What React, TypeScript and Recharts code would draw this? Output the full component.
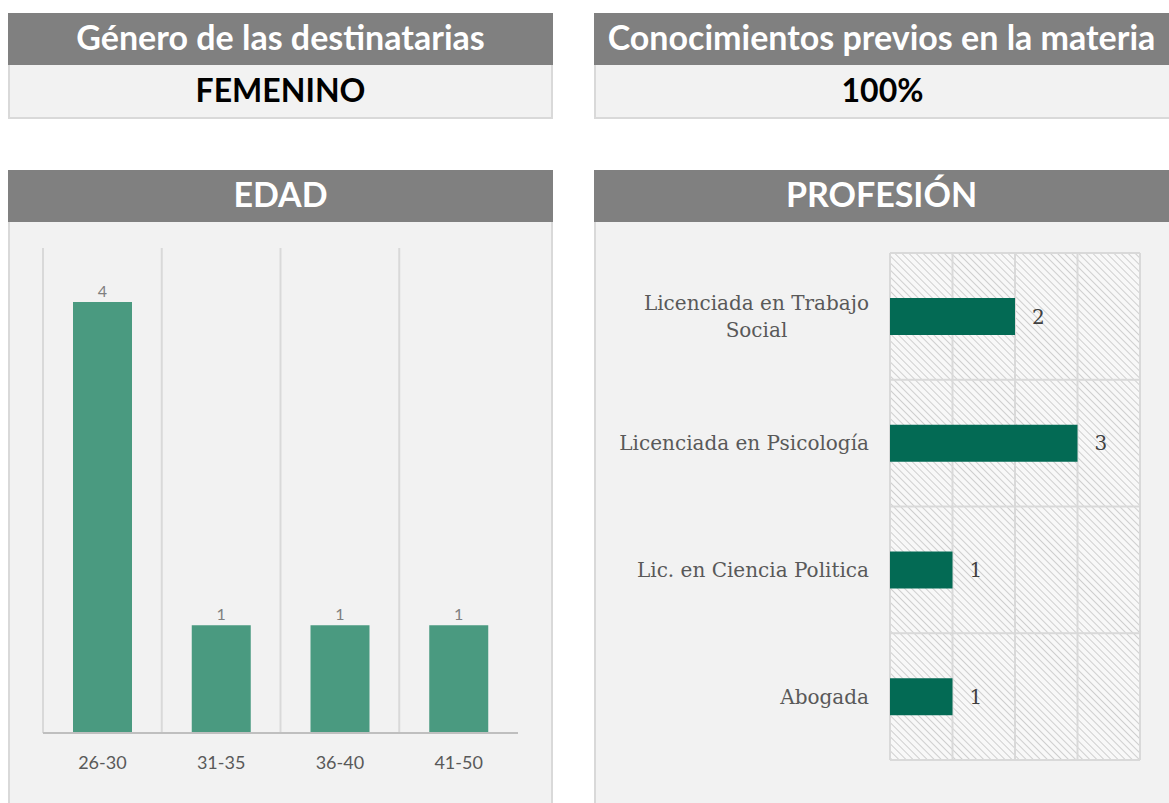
import React from 'react';
import { BarChart, Bar, XAxis, YAxis, CartesianGrid, LabelList } from 'recharts';

const ageGroups = ['26-30', '31-35', '36-40', '41-50'];
const ageCounts = [4, 1, 1, 1];

const professions = [
  'Licenciada en Trabajo Social',
  'Licenciada en Psicología',
  'Lic. en Ciencia Politica',
  'Abogada',
];
const professionCounts = [2, 3, 1, 1];
const professionTicks = [0, 1, 2, 3, 4];

const genderValue = 'FEMENINO';
const priorKnowledge = '100%';

const ageData = ageGroups.map((name, i) => ({ name, value: ageCounts[i] }));
const professionData = professions.map((name, i) => ({ name, value: professionCounts[i] }));

const SANS = 'Lato, "Open Sans", sans-serif';
const SERIF = '"DejaVu Serif", serif';
const SERIF_SIZE = 20;

const header: React.CSSProperties = {
  position: 'absolute',
  height: 52,
  boxSizing: 'border-box',
  paddingBottom: 6,
  background: '#808080',
  color: '#ffffff',
  fontFamily: SANS,
  fontWeight: 700,
  fontSize: 34,
  display: 'flex',
  alignItems: 'center',
  justifyContent: 'center',
  whiteSpace: 'nowrap',
  overflow: 'hidden',
};

const cell: React.CSSProperties = {
  position: 'absolute',
  background: '#f2f2f2',
  border: '2px solid #d9d9d9',
  borderTop: 'none',
  boxSizing: 'border-box',
  paddingBottom: 4,
  fontFamily: SANS,
  fontWeight: 700,
  fontSize: 32,
  color: '#000000',
  display: 'flex',
  alignItems: 'center',
  justifyContent: 'center',
};

const chartWrap: React.CSSProperties = { position: 'absolute', left: -2, top: 0, fontWeight: 400 };

let measureCtx: CanvasRenderingContext2D | null = null;
const measure = (text: string) => {
  if (!measureCtx) measureCtx = document.createElement('canvas').getContext('2d');
  if (!measureCtx) return text.length * SERIF_SIZE * 0.55;
  measureCtx.font = `400 ${SERIF_SIZE}px "DejaVu Serif"`;
  return measureCtx.measureText(text).width;
};

const wrapLabel = (label: string, maxChars = 25) => {
  const words = label.split(' ');
  const lines: string[] = [];
  let cur = '';
  words.forEach((w) => {
    const next = cur ? cur + ' ' + w : w;
    if (next.length > maxChars && cur) {
      lines.push(cur);
      cur = w;
    } else {
      cur = next;
    }
  });
  if (cur) lines.push(cur);
  return lines;
};

const ProfessionTick = (props: any) => {
  const { x, y, payload } = props;
  const lines = wrapLabel(String(payload.value));
  const blockW = Math.max(...lines.map(measure));
  const cx = x - blockW / 2;
  const lh = 27;
  const startY = y - ((lines.length - 1) * lh) / 2;
  return (
    <text fill="#595959" fontFamily={SERIF} fontSize={SERIF_SIZE} fontWeight={400} textAnchor="middle">
      {lines.map((l, i) => (
        <tspan key={i} x={cx} y={startY + i * lh} dy="0.35em">
          {l}
        </tspan>
      ))}
    </text>
  );
};

export default function App() {
  return (
    <div style={{ position: 'absolute', left: 0, top: 0, width: 1169, height: 803, background: '#ffffff', overflow: 'hidden' }}>
      <div style={{ ...header, left: 8, top: 13, width: 545 }}>Género de las destinatarias</div>
      <div style={{ ...cell, left: 8, top: 65, width: 545, height: 54 }}>{genderValue}</div>

      <div style={{ ...header, left: 594, top: 13, width: 575 }}>Conocimientos previos en la materia</div>
      <div style={{ ...cell, left: 594, top: 65, width: 577, height: 54 }}>{priorKnowledge}</div>

      <div style={{ ...header, left: 8, top: 170, width: 545 }}>EDAD</div>
      <div style={{ ...cell, left: 8, top: 222, width: 545, height: 590 }}>
        <div style={chartWrap}>
          <BarChart width={545} height={581} data={ageData} margin={{ top: 26, right: 35, left: 35, bottom: 30 }}>
            <CartesianGrid
              horizontal={false}
              stroke="#d9d9d9"
              strokeWidth={2}
              verticalCoordinatesGenerator={({ offset }: any) =>
                ageGroups.map((_, i) => offset.left + (i * offset.width) / ageGroups.length)
              }
            />
            <XAxis
              dataKey="name"
              tickLine={false}
              axisLine={{ stroke: '#bfbfbf', strokeWidth: 2 }}
              tickMargin={17}
              height={40}
              tick={{ fill: '#595959', fontSize: 18, fontFamily: SANS, fontWeight: 400 }}
            />
            <YAxis domain={[0, 4.5]} width={0} tick={false} tickLine={false} axisLine={{ stroke: '#bfbfbf', strokeWidth: 2 }} />
            <Bar dataKey="value" fill="#4a9a80" barSize={59} isAnimationActive={false}>
              <LabelList dataKey="value" position="top" offset={5} fill="#7f7f7f" fontSize={16} fontFamily={SANS} fontWeight={400} />
            </Bar>
          </BarChart>
        </div>
      </div>

      <div style={{ ...header, left: 594, top: 170, width: 575 }}>PROFESIÓN</div>
      <div style={{ ...cell, left: 594, top: 222, width: 577, height: 590 }}>
        <div style={chartWrap}>
          <BarChart
            width={575}
            height={581}
            layout="vertical"
            data={professionData}
            margin={{ top: 31, right: 29, left: 0, bottom: 43 }}
          >
            <defs>
              <pattern id="hatch" width="5" height="5" patternUnits="userSpaceOnUse" patternTransform="rotate(-45)">
                <rect width="5" height="5" fill="#f8f8f8" />
                <line x1="0" y1="0" x2="0" y2="5" stroke="#cfcfcf" strokeWidth="2" />
              </pattern>
            </defs>
            <CartesianGrid
              fill="url(#hatch)"
              stroke="#d9d9d9"
              strokeWidth={2}
              verticalCoordinatesGenerator={({ offset }: any) =>
                professionTicks.map((t) => offset.left + (t * offset.width) / 4)
              }
              horizontalCoordinatesGenerator={({ offset }: any) =>
                [0, 1, 2, 3, 4].map((i) => offset.top + (i * offset.height) / professions.length)
              }
            />
            <XAxis type="number" domain={[0, 4]} ticks={professionTicks} hide />
            <YAxis
              type="category"
              dataKey="name"
              width={296}
              tickLine={false}
              axisLine={false}
              tickMargin={15}
              tick={<ProfessionTick />}
            />
            <Bar dataKey="value" fill="#036a54" barSize={37} isAnimationActive={false}>
              <LabelList dataKey="value" position="right" offset={17} fill="#404040" fontSize={SERIF_SIZE} fontFamily={SERIF} fontWeight={400} />
            </Bar>
          </BarChart>
        </div>
      </div>
    </div>
  );
}
